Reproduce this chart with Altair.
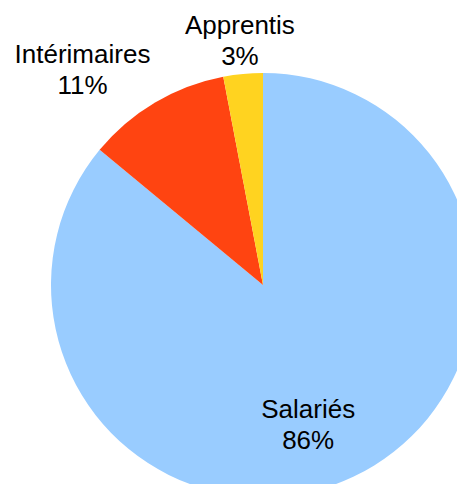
import altair as alt
import pandas as pd

categories = ["Salariés", "Intérimaires", "Apprentis"]
percents = [86, 11, 3]
colors = ["#99CCFF", "#FF4411", "#FFD320"]

df = pd.DataFrame({
    "cat": categories,
    "pct": percents,
    "idx": list(range(len(categories))),
})
df["label"] = [f"{c}\n{p}%" for c, p in zip(categories, percents)]

CX, CY, R = 255, 277, 212
TAU = 6.283185307179586

arc = alt.Chart(df).mark_arc(radius=R, x=CX, y=CY, stroke=None).encode(
    theta=alt.Theta("pct:Q", stack=True, scale=alt.Scale(range=[0, TAU])),
    order=alt.Order("idx:Q"),
    color=alt.Color("cat:N", scale=alt.Scale(domain=categories, range=colors), legend=None),
)

label_cfg = {
    "Salariés": dict(radius=146, dx=-17, dy=-7),
    "Intérimaires": dict(radius=280, dx=-38, dy=11),
    "Apprentis": dict(radius=245, dx=0, dy=-15),
}

text_base = alt.Chart(df).transform_joinaggregate(
    total="sum(pct)"
).transform_window(
    cum="sum(pct)", sort=[alt.SortField("idx")]
).transform_calculate(
    mid="(datum.cum - datum.pct / 2) / datum.total"
)

texts = []
for c in categories:
    cfg = label_cfg[c]
    t = text_base.transform_filter(alt.datum.cat == c).mark_text(
        x=CX, y=CY, radius=cfg["radius"], dx=cfg["dx"], dy=cfg["dy"],
        font="Liberation Sans", fontSize=26, lineHeight=31,
        align="center", baseline="middle", color="#000000", lineBreak="\n",
    ).encode(
        theta=alt.Theta("mid:Q", scale=alt.Scale(domain=[0, 1], range=[0, TAU])),
        text="label:N",
    )
    texts.append(t)

chart = alt.layer(arc, *texts).resolve_scale(theta="independent").properties(
    width=449, height=476, autosize=alt.AutoSizeParams(type="none"), padding=0,
    background="#ffffff",
).configure_view(stroke=None)

chart.save("out.html", embed_options={"renderer": "svg", "actions": False})
